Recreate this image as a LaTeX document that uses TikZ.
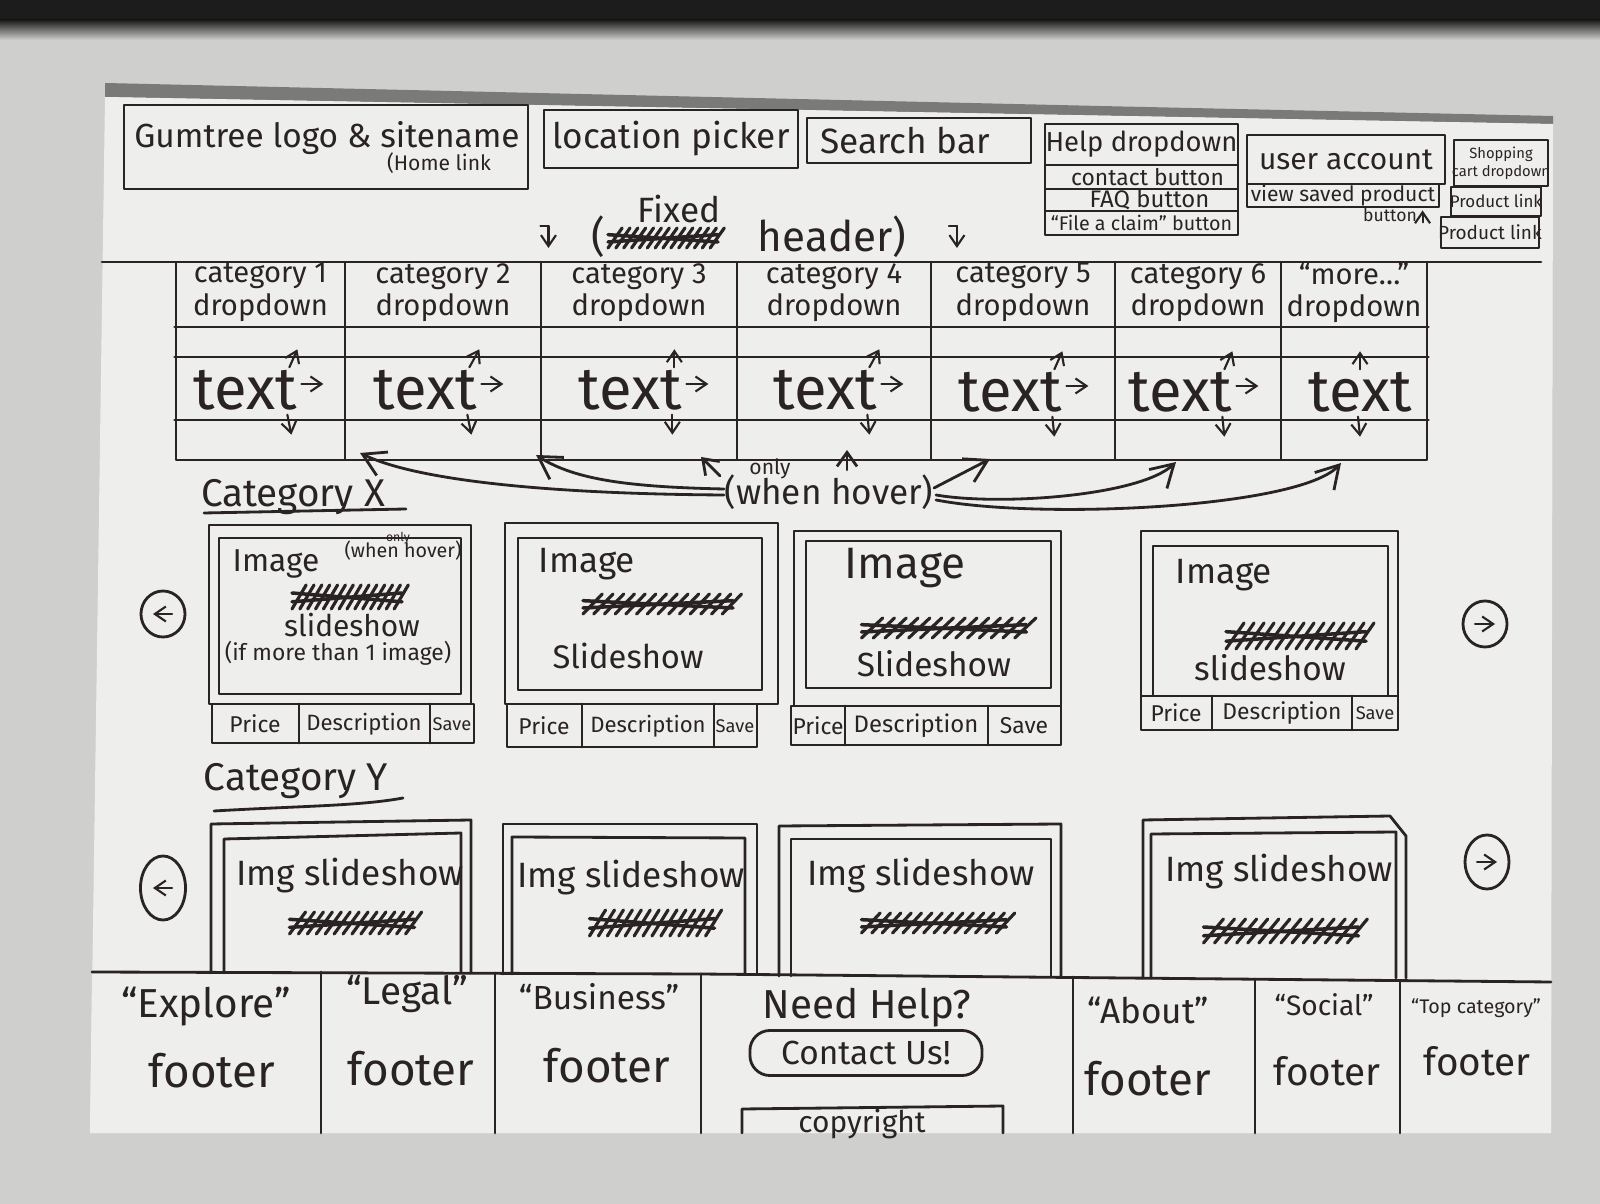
\documentclass[tikz,border=0pt]{standalone}
\usepackage{fontspec}
\setmainfont{Fira Sans}
\usetikzlibrary{fit,arrows.meta,calc,shapes.geometric}
\definecolor{ink}{HTML}{2A2323}
\definecolor{paper}{HTML}{EEEEEC}
\definecolor{backdrop}{HTML}{CFCFCD}
\definecolor{topdark}{HTML}{1C1C1C}
\definecolor{paperedge}{HTML}{7A7A78}
\newcommand\fs[1]{\fontsize{#1}{#1}\selectfont}
% scribbled-out word
\newcommand\scrib[4]{%
  \foreach \k in {0,...,13}{%
    \draw[inkline, line width=0.9pt] ({#1-#3/2+\k*#3/14},{#2+#4/2}) -- ({#1-#3/2+(\k+1.8)*#3/14},{#2-#4/2});
  }%
  \draw[inkline, line width=1pt] ({#1-#3/2},{#2+#4/5}) -- ({#1+#3/2},{#2-#4/6});
  \draw[inkline, line width=1pt] ({#1-#3/2},{#2-#4/6}) -- ({#1+#3/2},{#2+#4/5});
}
\tikzset{
  inkline/.style={draw=ink, line width=0.8pt, line cap=round, line join=round},
  inkbox/.style={inkline, rectangle, inner sep=0pt},
  lbl/.style={text=ink, inner sep=0pt, align=center},
  hovarr/.style={inkline, -{Straight Barb[length=2.2mm,width=2.6mm]}},
  shortarr/.style={inkline, -{Straight Barb[length=1.4mm,width=2mm]}},
  tinyarr/.style={inkline, line width=0.6pt, -{Straight Barb[length=1.1mm,width=1.5mm]}},
  roundbtn/.style={inkline, ellipse, inner sep=0pt},
}
\begin{document}
\begin{tikzpicture}[x=0.01cm,y=-0.01cm]
\useasboundingbox (0,0) rectangle (1600,1204);
% ---------- desk and sheet ----------
\fill[backdrop] (0,0) rectangle (1600,1204);
\fill[topdark] (0,0) rectangle (1600,20);
\shade[top color=topdark, bottom color=backdrop] (0,20) rectangle (1600,40);
\fill[paperedge] (105,83) -- (1100,106) -- (1553,116) -- (1553,124) -- (105,97) -- cycle;
\fill[paper] (105,97) -- (1553,124) -- (1551,1133) -- (90,1133) -- cycle;

% ---------- fixed header ----------
\node[inkbox, fit={(124,105) (528,189)}] (logo) {};
\node[lbl, font=\fs{9.5}] (logot) at (327,138) {Gumtree logo \& sitename};
\node[lbl, font=\fs{6}] (homet) at (439,163) {(Home link};
\node[inkbox, fit={(544,110) (798,168)}] (loc) {};
\node[lbl, font=\fs{10}] at (loc.center) {location picker};
\node[inkbox, fit={(807,118) (1031,163)}] (search) {};
\node[lbl, anchor=west, font=\fs{10}] at ($(search.west)+(14,0)$) {Search bar};

\node[inkbox, fit={(1045,124) (1238,165)}] (help) {};
\node[lbl, font=\fs{7.8}] at (help.center) {Help dropdown};
\node[inkbox, fit={(1045,165) (1238,189)}] (contactb) {};
\node[lbl, font=\fs{6.5}] at ($(contactb.center)+(6,0)$) {contact button};
\node[inkbox, fit={(1045,189) (1238,211)}] (faqb) {};
\node[lbl, font=\fs{6.8}] at ($(faqb.center)+(8,0)$) {FAQ button};
\node[inkbox, fit={(1045,211) (1238,235)}] (claimb) {};
\node[lbl, font=\fs{5.6}] at (claimb.center) {“File a claim” button};

\node[inkbox, fit={(1247,135) (1445,184)}] (acct) {};
\node[lbl, font=\fs{8.5}] at (acct.center) {user account};
\node[inkbox, fit={(1247,184) (1439,207)}] (saved) {};
\node[lbl, font=\fs{6}] at (saved.center) {view saved product};
\node[lbl, font=\fs{5}] (savedbtn) at (1390,215) {button};
\draw[tinyarr] ($(savedbtn.south east)+(5,0)$) -- ++(0,-12);

\node[inkbox, fit={(1454,140) (1548,186)}] (cart) {};
\node[lbl, font=\fs{4.2}] at (cart.center) {Shopping\\[1pt]cart dropdown};
\node[inkbox, fit={(1451,187) (1541,216)}] (plink1) {};
\node[lbl, font=\fs{4.8}] at (plink1.center) {Product link};
\node[inkbox, fit={(1441,217) (1539,248)}] (plink2) {};
\node[lbl, font=\fs{5.4}] at (plink2.center) {Product link};

\node[lbl, font=\fs{10}] (fixedt) at (679,209) {Fixed};
\node[lbl, font=\fs{12}] (hdrl) at (598,237) {(};
\scrib{663}{238}{110}{20}
\node[lbl, font=\fs{12}] (hdrr) at (832,237) {header)};
\draw[tinyarr] ($(hdrl.west)+(-42,-11)$) -- ++(0,22);
\draw[inkline, line width=0.6pt] ($(hdrl.west)+(-42,-11)$) -- ++(-8,0);
\draw[tinyarr] ($(hdrr.east)+(50,-11)$) -- ++(0,22);
\draw[inkline, line width=0.6pt] ($(hdrr.east)+(50,-11)$) -- ++(-8,0);

\draw[inkline] (102,262) -- (1541,262);

% ---------- category navigation ----------
\foreach \n/\a/\b in {1/176/345, 2/345/541, 3/541/737, 4/737/931, 5/931/1115, 6/1115/1281, 7/1281/1427}{
  \node[inkbox, fit={(\a,262) (\b,460)}] (cat\n) {};
}
\draw[inkline] (cat1.west |- 0,327) -- (cat7.east |- 0,327);
\draw[inkline] (cat1.west |- 0,357) -- (cat7.east |- 0,357);
\draw[inkline] (cat1.west |- 0,420) -- (cat7.east |- 0,420);
\foreach \n in {1,...,6}{
  \node[lbl, font=\fs{8.3}] (cath\n) at ($(cat\n.north)+(0,32)$) {category \n\\[1pt]dropdown};
}
\node[lbl, font=\fs{8.3}] (cath7) at ($(cat7.north)+(0,32)$) {“more\ldots”\\[1pt]dropdown};
% dropdown entries
\node[lbl, font=\fs{17}] (tx1) at (245,390) {text};
\node[lbl, font=\fs{17}] (tx2) at (425,390) {text};
\node[lbl, font=\fs{17}] (tx3) at (630,390) {text};
\node[lbl, font=\fs{17}] (tx4) at (825,390) {text};
\node[lbl, font=\fs{17}] (tx5) at (1010,392) {text};
\node[lbl, font=\fs{17}] (tx6) at (1180,392) {text};
\node[lbl, font=\fs{17}] (tx7) at (1360,392) {text};
\foreach \n/\ux/\dx in {1/8/4, 2/10/4, 3/0/0, 4/10/2, 5/8/2, 6/8/2}{
  \draw[tinyarr] ($(tx\n.east)+(4,-6)$) -- ++(22,0);
  \draw[tinyarr] ($(tx\n.north east)+(-8,-2)$) -- ++(\ux,-18);
  \draw[tinyarr] ($(tx\n.south east)+(-10,4)$) -- ++(\dx,20);
}
\draw[tinyarr] ($(tx7.north)+(0,-2)$) -- ++(0,-18);
\draw[tinyarr] ($(tx7.south)+(-2,4)$) -- ++(2,20);

% hover note
\node[lbl, font=\fs{6}] (onlyt) at (770,469) {only};
\node[lbl, font=\fs{10}] (hov) at (829,492) {(when hover)};
\coordinate (t2) at (360,453);
\coordinate (t3) at (536,455);
\coordinate (t4) at (701,457);
\coordinate (t5) at (847,450);
\coordinate (t6) at (990,459);
\coordinate (t7) at (1176,462);
\coordinate (t8) at (1341,463);
\draw[hovarr] ($(hov.west)+(0,3)$) .. controls (560,494) and (420,482) .. (t2);
\draw[hovarr] ($(hov.west)+(0,-3)$) .. controls (630,487) and (575,480) .. (t3);
\draw[shortarr] ($(hov.north west)+(-4,2)$) -- (t4);
\draw[shortarr] ($(hov.north)+(18,-4)$) -- (t5);
\draw[hovarr] ($(hov.east)+(0,-4)$) -- (t6);
\draw[hovarr] ($(hov.east)+(2,3)$) .. controls (1000,506) and (1140,496) .. (t7);
\draw[hovarr] ($(hov.east)+(2,8)$) .. controls (1040,520) and (1300,508) .. (t8);

% ---------- category X ----------
\node[lbl, font=\fs{11}] (catx) at (293,497) {Category X};
\draw[inkline] (204,513) -- (406,509);

\node[roundbtn, minimum width=0.44cm, minimum height=0.46cm] (prevx) at (163,614) {};
\draw[tinyarr] ($(prevx.center)+(9,0)$) -- ($(prevx.center)+(-10,0)$);
\node[roundbtn, minimum width=0.44cm, minimum height=0.46cm] (nextx) at (1485,624) {};
\draw[tinyarr] ($(nextx.center)+(-10,0)$) -- ($(nextx.center)+(10,0)$);

% card 1
\node[inkbox, fit={(209,525) (471,704)}] (c1) {};
\node[inkbox, fit={(219,538) (461,694)}] (c1i) {};
\node[inkbox, fit={(212,704) (474,743)}] (c1s) {};
\draw[inkline] (299,704) -- (299,743);
\draw[inkline] (430,704) -- (430,743);
\node[lbl, font=\fs{6.5}] at (255,724) {Price};
\node[lbl, font=\fs{6.3}] at (364,724) {Description};
\node[lbl, font=\fs{5.2}] at (452,724) {Save};
\node[lbl, font=\fs{9}] (c1img) at (276,564) {Image};
\node[lbl, font=\fs{5.6}] (c1hov) at (403,551) {(when hover)};
\node[lbl, font=\fs{3.5}] at (398,538) {only};
\scrib{347}{597}{110}{24}
\node[lbl, font=\fs{8.5}] (c1sl) at (352,625) {slideshow};
\node[lbl, font=\fs{6.5}] (c1more) at (338,653) {(if more than 1 image)};

% card 2
\node[inkbox, fit={(505,523) (778,704)}] (c2) {};
\node[inkbox, fit={(518,538) (762,690)}] (c2i) {};
\node[inkbox, fit={(507,704) (757,747)}] (c2s) {};
\draw[inkline] (582,704) -- (582,747);
\draw[inkline] (714,704) -- (714,747);
\node[lbl, font=\fs{6.5}] at (544,726) {Price};
\node[lbl, font=\fs{6.3}] at (648,726) {Description};
\node[lbl, font=\fs{5.2}] at (735,726) {Save};
\node[lbl, font=\fs{10}] (c2img) at (587,564) {Image};
\scrib{658}{604}{150}{20}
\node[lbl, font=\fs{9.3}] (c2sl) at (628,656) {Slideshow};

% card 3
\node[inkbox, fit={(794,531) (1061,706)}] (c3) {};
\node[inkbox, fit={(806,541) (1051,688)}] (c3i) {};
\node[inkbox, fit={(791,706) (1061,745)}] (c3s) {};
\draw[inkline] (845,706) -- (845,745);
\draw[inkline] (988,706) -- (988,745);
\node[lbl, font=\fs{6.5}] at (818,726) {Price};
\node[lbl, font=\fs{6.8}] at (916,726) {Description};
\node[lbl, font=\fs{6.5}] at (1024,726) {Save};
\node[lbl, font=\fs{12.5}] (c3img) at (905,568) {Image};
\scrib{944}{628}{165}{20}
\node[lbl, font=\fs{9.5}] (c3sl) at (934,664) {Slideshow};

% card 4
\node[inkbox, fit={(1141,531) (1398,696)}] (c4) {};
\node[inkbox, fit={(1153,546) (1388,696)}] (c4i) {};
\node[inkbox, fit={(1141,696) (1398,730)}] (c4s) {};
\draw[inkline] (1212,696) -- (1212,730);
\draw[inkline] (1352,696) -- (1352,730);
\node[lbl, font=\fs{6.5}] at (1176,713) {Price};
\node[lbl, font=\fs{6.5}] at (1282,713) {Description};
\node[lbl, font=\fs{5.2}] at (1375,713) {Save};
\node[lbl, font=\fs{10}] (c4img) at (1224,575) {Image};
\scrib{1296}{636}{140}{26}
\node[lbl, font=\fs{9.5}] (c4sl) at (1270,668) {slideshow};

% ---------- category Y ----------
\node[lbl, font=\fs{11}] (caty) at (296,781) {Category Y};
\draw[inkline] (214,811) .. controls (300,806) and (360,806) .. (403,798);

\node[roundbtn, minimum width=0.45cm, minimum height=0.64cm] (prevy) at (163,888) {};
\draw[tinyarr] ($(prevy.center)+(9,0)$) -- ($(prevy.center)+(-10,0)$);
\node[roundbtn, minimum width=0.44cm, minimum height=0.54cm] (nexty) at (1487,862) {};
\draw[tinyarr] ($(nexty.center)+(-10,0)$) -- ($(nexty.center)+(10,0)$);

\draw[inkline] (211,973) -- (211,824) -- (471,820) -- (471,973);
\draw[inkline] (224,973) -- (224,839) -- (461,833) -- (461,973);
\draw[inkline] (503,974) -- (503,824) -- (757,824) -- (757,974);
\draw[inkline] (512,974) -- (512,837) -- (745,838) -- (745,974);
\draw[inkline] (779,976) -- (779,826) -- (1061,824) -- (1061,976);
\draw[inkline] (791,976) -- (791,839) -- (1051,839) -- (1051,976);
\draw[inkline] (1143,978) -- (1143,820) -- (1390,816) -- (1406,836) -- (1406,978);
\draw[inkline] (1151,978) -- (1151,834) -- (1396,832) -- (1396,978);
\node[lbl, font=\fs{10}] (y1t) at (350,876) {Img slideshow};
\scrib{352}{923}{125}{22}
\node[lbl, font=\fs{10}] (y2t) at (631,878) {Img slideshow};
\scrib{652}{923}{125}{26}
\node[lbl, font=\fs{10}] (y3t) at (921,876) {Img slideshow};
\scrib{934}{923}{145}{20}
\node[lbl, font=\fs{10}] (y4t) at (1279,872) {Img slideshow};
\scrib{1281}{931}{155}{24}

% ---------- footer ----------
\fill[paper] (92,974) -- (1551,982) -- (1551,1133) -- (90,1133) -- cycle;
\draw[inkline] (92,972) -- (700,974) -- (1551,982);
\foreach \x/\yt in {321/972, 495/973, 701/974, 1073/977, 1255/979, 1400/981}{
  \draw[inkline] (\x,\yt) -- (\x,1133);
}
\node[lbl, font=\fs{11.5}] (fexp) at (206,1007) {“Explore”};
\node[lbl, font=\fs{13}] at (212,1071) {footer};
\node[lbl, font=\fs{11}] (fleg) at (407,994) {“Legal”};
\node[lbl, font=\fs{13}] at (411,1069) {footer};
\node[lbl, font=\fs{9.5}] (fbus) at (599,997) {“Business”};
\node[lbl, font=\fs{13}] at (607,1066) {footer};
\node[lbl, font=\fs{11.5}] (fhelp) at (867,1008) {Need Help?};
\node[inkline, rectangle, rounded corners=0.2cm, minimum width=2.32cm, minimum height=0.45cm, inner sep=0pt] (contact) at (866,1053) {};
\node[lbl, font=\fs{9.5}] at (contact.center) {Contact Us!};
\draw[inkline] (742,1133) -- (742,1109) -- (1003,1106) -- (1003,1133);
\node[lbl, font=\fs{8.5}] (copyt) at (862,1124) {copyright};
\node[lbl, font=\fs{10}] (fabout) at (1148,1010) {“About”};
\node[lbl, font=\fs{13}] at (1148,1079) {footer};
\node[lbl, font=\fs{8}] (fsoc) at (1324,1005) {“Social”};
\node[lbl, font=\fs{11}] at (1327,1071) {footer};
\node[lbl, font=\fs{5.6}] (ftop) at (1476,1008) {“Top category”};
\node[lbl, font=\fs{11}] at (1477,1061) {footer};
\end{tikzpicture}
\end{document}
